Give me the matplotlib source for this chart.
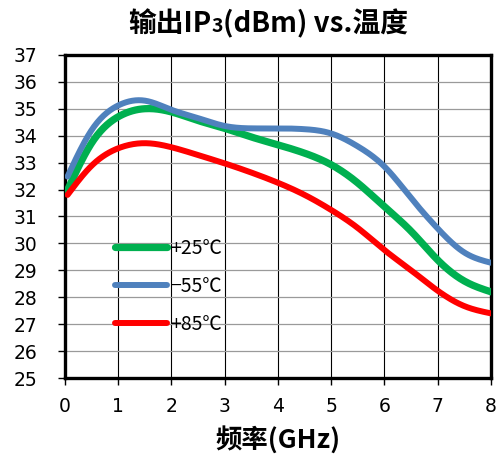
import numpy as np
import matplotlib
matplotlib.use("Agg")
import matplotlib.pyplot as plt

# Output IP3 (dBm) versus frequency at three temperatures
freq_ghz = [0.05, 0.5, 1.0, 1.5, 2.0, 2.5, 3.0, 3.5, 4.0, 4.5, 5.0, 5.5, 6.0, 6.5, 7.0, 7.5, 8.0]
ip3_p25 = [31.98, 33.72, 34.7, 35.0, 34.88, 34.56, 34.27, 33.95, 33.66, 33.35, 32.92, 32.24, 31.36, 30.45, 29.38, 28.6, 28.2]
ip3_m55 = [32.48, 34.2, 35.12, 35.3, 34.96, 34.65, 34.36, 34.27, 34.27, 34.24, 34.08, 33.6, 32.85, 31.68, 30.55, 29.66, 29.28]
ip3_p85 = [31.8, 32.88, 33.53, 33.72, 33.57, 33.28, 32.97, 32.63, 32.25, 31.8, 31.24, 30.57, 29.75, 29.0, 28.24, 27.67, 27.4]

series_labels = ["+25℃", "\u221255℃", "+85℃"]
series_colors = ["#00B050", "#4F81BD", "#FF0000"]
series_widths = [5.2, 4.3, 4.3]

x_ticks = [0, 1, 2, 3, 4, 5, 6, 7, 8]
y_ticks = list(range(25, 38))

cjk = ["Noto Sans CJK SC", "DejaVu Sans"]


def smooth(x, y, n=400):
    """Natural cubic spline through the points, sampled finely for a smooth line."""
    x = np.asarray(x, float)
    y = np.asarray(y, float)
    m = len(x)
    h = np.diff(x)
    A = np.zeros((m, m))
    b = np.zeros(m)
    A[0, 0] = A[-1, -1] = 1.0
    for i in range(1, m - 1):
        A[i, i - 1] = h[i - 1]
        A[i, i] = 2 * (h[i - 1] + h[i])
        A[i, i + 1] = h[i]
        b[i] = 3 * ((y[i + 1] - y[i]) / h[i] - (y[i] - y[i - 1]) / h[i - 1])
    c = np.linalg.solve(A, b)
    xs = np.linspace(x[0], x[-1], n)
    idx = np.clip(np.searchsorted(x, xs) - 1, 0, m - 2)
    dx = xs - x[idx]
    hi = h[idx]
    bi = (y[idx + 1] - y[idx]) / hi - hi * (2 * c[idx] + c[idx + 1]) / 3
    di = (c[idx + 1] - c[idx]) / (3 * hi)
    ys = y[idx] + bi * dx + c[idx] * dx ** 2 + di * dx ** 3
    return xs, ys


fig = plt.figure(figsize=(4.99, 4.61), dpi=100)
ax = fig.add_axes([0.130, 0.180, 0.854, 0.701])

for yv, lab, col, lw in zip([ip3_p25, ip3_m55, ip3_p85], series_labels, series_colors, series_widths):
    sx, sy = smooth(freq_ghz, yv)
    ax.plot(sx, sy, color=col, lw=lw, solid_capstyle="round", label=lab, zorder=3)

ax.set_xlim(0, 8)
ax.set_ylim(25, 37)
ax.set_xticks(x_ticks)
ax.set_yticks(y_ticks)
ax.set_xticklabels([str(v) for v in x_ticks])
ax.set_yticklabels([str(v) for v in y_ticks])

# vertical grid black, horizontal grid gray
ax.xaxis.grid(True, color="black", lw=0.8, zorder=1)
ax.yaxis.grid(True, color="#9a9a9a", lw=0.9, zorder=1)
ax.set_axisbelow(True)

for s in ax.spines.values():
    s.set_linewidth(2.4)
    s.set_color("black")

ax.tick_params(axis="both", direction="out", length=5, width=1.0, color="black",
               labelsize=13.5)
for lbl in ax.get_xticklabels() + ax.get_yticklabels():
    lbl.set_family("DejaVu Sans")
ax.tick_params(axis="y", pad=15)
ax.tick_params(axis="x", pad=9)

ax.set_xlabel("频率(GHz)", family=cjk, fontsize=19, fontweight="black", labelpad=7)

leg = ax.legend(loc="upper left", bbox_to_anchor=(0.076, 0.488), frameon=False,
                handlelength=2.7, handletextpad=0.15, labelspacing=0.87,
                prop={"family": cjk, "size": 14})
for h in leg.get_lines():
    h.set_solid_capstyle("round")

# Title with a small "3" after IP
ty = 1 - 32 / 461
t1 = fig.text(128 / 499, ty, "输出IP", family=cjk, fontsize=20,
              fontweight="black", ha="left", va="baseline")
t2 = fig.text(0, 0, "3", family=cjk, fontsize=14, fontweight="black",
              ha="left", va="baseline")
t3 = fig.text(0, 0, "(dBm) vs.温度", family=cjk, fontsize=20, fontweight="black",
              ha="left", va="baseline")
fig.canvas.draw()
r = fig.canvas.get_renderer()
inv = fig.transFigure.inverted()
bb1 = t1.get_window_extent(r)
t2.set_position((inv.transform((bb1.x1, 0))[0], ty))
fig.canvas.draw()
bb2 = t2.get_window_extent(r)
t3.set_position((inv.transform((bb2.x1, 0))[0], ty))

fig.savefig("out.png", dpi=100)
